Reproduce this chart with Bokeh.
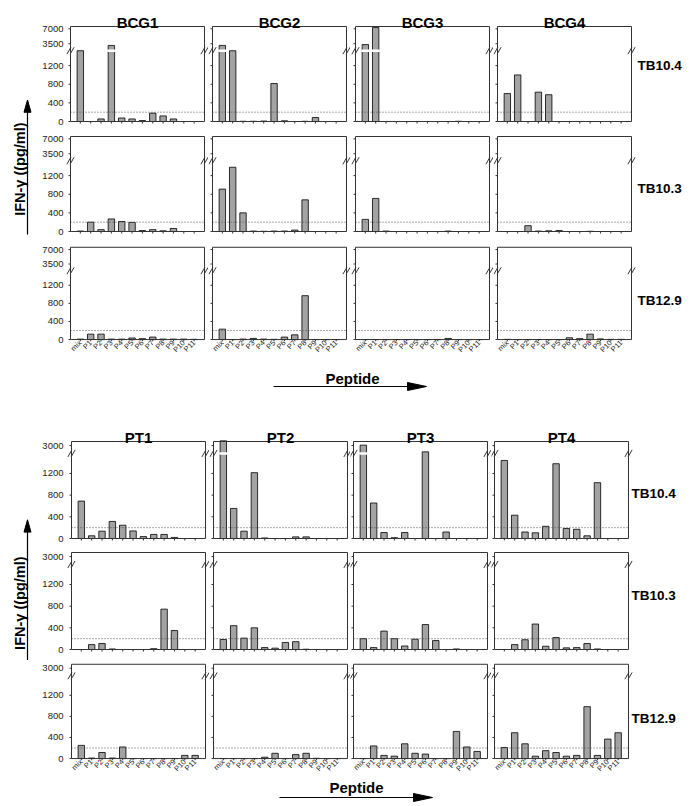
import math
from bokeh.plotting import figure
from bokeh.models import Range1d, FixedTicker, GridBox, ColumnDataSource
from bokeh.layouts import column
from bokeh.embed import file_html
from bokeh.resources import INLINE
from bokeh.core.properties import value

# ---------------- data ----------------
peptides = ["mix", "P1", "P2", "P3", "P4", "P5", "P6", "P7", "P8", "P9", "P10", "P11"]
antigens = ["TB10.4", "TB10.3", "TB12.9"]
top_donors = ["BCG1", "BCG2", "BCG3", "BCG4"]
bottom_donors = ["PT1", "PT2", "PT3", "PT4"]
threshold = 200  # pg/ml cut-off (dotted line)

# IFN-gamma (pg/ml), BCG vaccinees
bcg1_tb104 = [1800, 0, 55, 3100, 75, 55, 20, 180, 120, 55, 0, 0]
bcg2_tb104 = [3100, 1800, 5, 5, 10, 815, 15, 0, 5, 85, 0, 0]
bcg3_tb104 = [3300, 7300, 0, 0, 0, 0, 0, 0, 0, 5, 0, 0]
bcg4_tb104 = [600, 1000, 0, 630, 575, 0, 0, 0, 0, 0, 0, 0]

bcg1_tb103 = [10, 200, 40, 270, 215, 195, 20, 40, 15, 65, 0, 0]
bcg2_tb103 = [910, 1380, 400, 10, 5, 10, 10, 30, 680, 0, 0, 0]
bcg3_tb103 = [260, 710, 10, 0, 0, 0, 0, 0, 10, 0, 0, 0]
bcg4_tb103 = [0, 0, 125, 10, 15, 20, 0, 0, 5, 0, 0, 0]

bcg1_tb129 = [10, 120, 120, 10, 10, 35, 20, 55, 10, 10, 10, 5]
bcg2_tb129 = [230, 0, 10, 25, 10, 5, 55, 105, 970, 0, 0, 0]
bcg3_tb129 = [0, 0, 0, 0, 0, 0, 0, 0, 25, 0, 0, 0]
bcg4_tb129 = [5, 0, 0, 0, 0, 0, 40, 20, 120, 15, 5, 5]

# IFN-gamma (pg/ml), TB patients
pt1_tb104 = [690, 50, 135, 315, 245, 140, 35, 75, 75, 20, 0, 0]
pt2_tb104 = [3600, 555, 135, 1215, 10, 0, 0, 30, 30, 0, 0, 0]
pt3_tb104 = [3050, 655, 110, 15, 110, 0, 2200, 0, 120, 0, 0, 0]
pt4_tb104 = [1440, 430, 120, 105, 225, 1380, 185, 170, 50, 1030, 0, 0]

pt1_tb103 = [0, 90, 110, 10, 0, 0, 0, 15, 745, 350, 0, 0]
pt2_tb103 = [185, 440, 210, 400, 35, 25, 130, 145, 5, 0, 0, 0]
pt3_tb103 = [200, 35, 340, 200, 65, 190, 460, 165, 0, 10, 0, 0]
pt4_tb103 = [0, 90, 180, 470, 60, 220, 30, 35, 110, 10, 0, 0]

pt1_tb129 = [250, 10, 115, 10, 220, 0, 0, 0, 0, 0, 60, 60]
pt2_tb129 = [0, 0, 0, 0, 25, 100, 0, 75, 100, 5, 0, 0]
pt3_tb129 = [0, 240, 60, 45, 280, 100, 85, 0, 0, 515, 220, 135]
pt4_tb129 = [210, 490, 280, 45, 150, 115, 45, 60, 985, 60, 370, 490]

top_values = [
    [bcg1_tb104, bcg2_tb104, bcg3_tb104, bcg4_tb104],
    [bcg1_tb103, bcg2_tb103, bcg3_tb103, bcg4_tb103],
    [bcg1_tb129, bcg2_tb129, bcg3_tb129, bcg4_tb129],
]
bottom_values = [
    [pt1_tb104, pt2_tb104, pt3_tb104, pt4_tb104],
    [pt1_tb103, pt2_tb103, pt3_tb103, pt4_tb103],
    [pt1_tb129, pt2_tb129, pt3_tb129, pt4_tb129],
]

# ---------------- broken-axis / layout configuration ----------------
FONT = "Liberation Sans"
FRAME_W = 134          # panel box width in px
X0, X1 = -0.95, 12.0   # panel box x extent (category index units)
BAR_FILL = "#a3a3a3"
EDGE = "#333333"
YLAB_W = 36
PAGE_W = 688

TOP = dict(ytop=2040, brk=1520, up_val=3500, up_at=1670, up_slope=320 / 3500,
           ticks=[0, 400, 800, 1200, 1670, 1990], overrides={1670: "3500", 1990: "7000"},
           frame_h=95,
           mx=[(5, 4), (4, 4), (5, 4), (4, 57)], axis_left=29, ystand=2,
           my=[(26, 10), (5, 8), (8, 2)], axis_bottom=16,
           rowlab_px=[56, 43, 40], rowlab_dx=6)
BOT = dict(ytop=1790, brk=1570, up_val=3000, up_at=1715, up_slope=0.145,
           ticks=[0, 400, 800, 1200, 1715], overrides={1715: "3000"},
           frame_h=97,
           mx=[(5, 4), (4, 3), (3, 4), (3, 60)], axis_left=30, ystand=3,
           my=[(25, 5), (9, 7), (8, 2)], axis_bottom=16,
           rowlab_px=[45, 54, 41], rowlab_dx=3)


def disp(v, cfg):
    """value -> position on the broken y axis"""
    if v <= cfg["brk"]:
        return v
    return max(cfg["brk"], cfg["up_at"] + (v - cfg["up_val"]) * cfg["up_slope"])


def make_panel(vals, cfg, r, c, donor):
    ml, mr = cfg["mx"][c]
    mt, mb = cfg["my"][r]
    bl = cfg["axis_left"] if c == 0 else 0
    bb = cfg["axis_bottom"] if r == 2 else 0
    fh = cfg["frame_h"]
    ytop = cfg["ytop"]
    brk = cfg["brk"]
    upx = ytop / fh
    xpx = (X1 - X0) / FRAME_W
    p = figure(width=bl + ml + FRAME_W + mr, height=mt + fh + mb + bb,
               x_range=Range1d(X0 - ml * xpx, X1 + mr * xpx),
               y_range=Range1d(-mb * upx, ytop + mt * upx),
               output_backend="svg", toolbar_location=None, tools="",
               min_border_left=bl, min_border_right=0, min_border_top=0, min_border_bottom=bb,
               x_axis_location="below" if r == 2 else None,
               y_axis_location="left" if c == 0 else None)
    p.xgrid.visible = False
    p.ygrid.visible = False
    p.outline_line_color = None
    p.background_fill_color = "white"
    p.border_fill_color = "white"

    if c == 0:
        ya = p.yaxis[0]
        ya.ticker = FixedTicker(ticks=cfg["ticks"])
        ya.major_label_overrides = cfg["overrides"]
        ya.major_tick_out = 0
        ya.major_tick_in = 0
        ya.minor_tick_out = 0
        ya.minor_tick_in = 0
        ya.axis_line_color = None
        ya.major_label_text_font = FONT
        ya.major_label_text_font_size = "9.5px"
        ya.major_label_text_color = "#222222"
        ya.major_label_standoff = cfg["ystand"]
    if r == 2:
        xa = p.xaxis[0]
        xa.ticker = FixedTicker(ticks=list(range(len(peptides))))
        xa.major_label_overrides = {i: name for i, name in enumerate(peptides)}
        xa.major_tick_out = 0
        xa.major_tick_in = 0
        xa.minor_tick_out = 0
        xa.minor_tick_in = 0
        xa.axis_line_color = None
        xa.major_label_text_font = FONT
        xa.major_label_text_font_size = "7.5px"
        xa.major_label_text_color = "#222222"
        xa.major_label_orientation = math.pi / 4
        xa.major_label_standoff = 0

    xs = list(range(len(peptides)))
    src = ColumnDataSource(dict(x=xs, top=[disp(v, cfg) for v in vals],
                                peptide=peptides, value=vals))
    p.vbar(x="x", top="top", width=0.62, source=src, fill_color=BAR_FILL,
           line_color="black", line_width=0.8)

    # white break gap through bars crossing the axis break
    gx = [x for x, v in zip(xs, vals) if disp(v, cfg) > brk + 30]
    if gx:
        p.rect(x=gx, y=[brk] * len(gx), width=0.8, height=2.5 * upx,
               fill_color="white", line_color=None)

    # cut-off line (dotted), only inside the panel box
    p.segment(x0=[X0], y0=[threshold], x1=[X1], y1=[threshold],
              line_color="#555555", line_dash="1 2", line_width=1)

    # panel box
    p.quad(left=[X0], right=[X1], bottom=[0], top=[ytop], fill_color=None,
           line_color=EDGE, line_width=1)
    # small tick marks on the box
    yt = cfg["ticks"]
    p.segment(x0=[X0 - 2 * xpx] * len(yt), y0=yt, x1=[X0] * len(yt), y1=yt,
              line_color=EDGE, line_width=1)
    p.segment(x0=xs, y0=[0] * len(xs), x1=xs, y1=[-2 * upx] * len(xs),
              line_color=EDGE, line_width=1)
    # axis break marks "//" on both box edges
    bx0, by0, bx1, by1 = [], [], [], []
    for ex in (X0, X1):
        for dx in (-1.6, 1.6):
            bx0.append(ex + (dx - 2.0) * xpx)
            by0.append(brk - 3.5 * upx)
            bx1.append(ex + (dx + 2.0) * xpx)
            by1.append(brk + 3.5 * upx)
    p.segment(x0=bx0, y0=by0, x1=bx1, y1=by1, line_color=EDGE, line_width=1)

    if r == 0:
        p.text(x=[(X0 + X1) / 2], y=[ytop + 4 * upx], text=[donor], text_align="center",
               text_baseline="alphabetic", text_font=value(FONT), text_font_style="bold",
               text_font_size="15px", text_color="black")
    if c == 3:
        p.text(x=[X1 + cfg["rowlab_dx"] * xpx], y=[cfg["rowlab_px"][r] * upx],
               text=[antigens[r]], text_align="left", text_baseline="middle",
               text_font=value(FONT), text_font_style="bold",
               text_font_size="13.5px", text_color="black")
    return p


def make_ylab(H, text_cy, tip_y, bottom_y):
    p = figure(width=YLAB_W, height=H, x_range=Range1d(0, YLAB_W), y_range=Range1d(0, H),
               output_backend="svg", toolbar_location=None, tools="",
               min_border=0, x_axis_location=None, y_axis_location=None)
    p.xgrid.visible = False
    p.ygrid.visible = False
    p.outline_line_color = None
    p.text(x=[19], y=[H - text_cy], text=["IFN-γ ((pg/ml)"], angle=math.pi / 2,
           text_align="center", text_baseline="middle", text_font=value(FONT),
           text_font_style="bold", text_font_size="14.5px", text_color="black")
    ax = 27
    p.segment(x0=[ax], y0=[H - bottom_y], x1=[ax], y1=[H - tip_y - 10],
              line_color="black", line_width=1.2)
    p.patch(x=[ax - 3.5, ax, ax + 3.5], y=[H - tip_y - 13, H - tip_y, H - tip_y - 13],
            fill_color="black", line_color="black")
    return p


def make_pep(H, text_cx, text_cy, line_x0, line_x1, line_y):
    p = figure(width=PAGE_W, height=H, x_range=Range1d(0, PAGE_W), y_range=Range1d(0, H),
               output_backend="svg", toolbar_location=None, tools="",
               min_border=0, x_axis_location=None, y_axis_location=None)
    p.xgrid.visible = False
    p.ygrid.visible = False
    p.outline_line_color = None
    p.text(x=[text_cx], y=[H - text_cy], text=["Peptide"], text_align="center",
           text_baseline="middle", text_font=value(FONT), text_font_style="bold",
           text_font_size="15px", text_color="black")
    head = 19
    p.segment(x0=[line_x0], y0=[H - line_y], x1=[line_x1 - head + 2], y1=[H - line_y],
              line_color="black", line_width=1.2)
    p.patch(x=[line_x1 - head, line_x1, line_x1 - head],
            y=[H - line_y + 4, H - line_y, H - line_y - 4],
            fill_color="black", line_color="black")
    return p


def make_block(values, donors, cfg, H, ylab_args):
    children = [(make_ylab(H, *ylab_args), 0, 0, 3, 1)]
    for r in range(3):
        for c in range(4):
            children.append((make_panel(values[r][c], cfg, r, c, donors[c]), r, c + 1))
    return GridBox(children=children, spacing=0)


grid_top = make_block(top_values, top_donors, TOP, 360, (178, 105, 247))
pep_top = make_pep(56, 352, 18, 273, 426, 26)
grid_bot = make_block(bottom_values, bottom_donors, BOT, 363, (197, 109, 257))
pep_bot = make_pep(25, 356, 8, 279, 432, 18)

layout = column(grid_top, pep_top, grid_bot, pep_bot, spacing=0)

open("out.html", "w").write(file_html(layout, INLINE))
